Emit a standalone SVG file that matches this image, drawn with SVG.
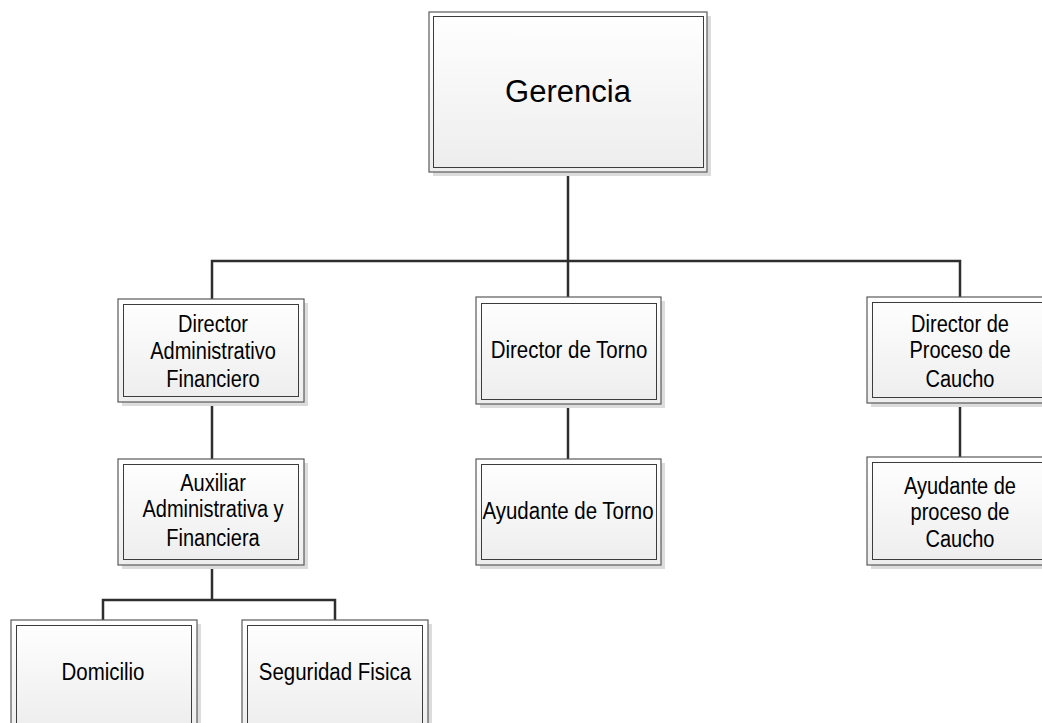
<svg xmlns="http://www.w3.org/2000/svg" width="1042" height="723" viewBox="0 0 1042 723">
<defs>
<linearGradient id="g" x1="0" y1="0" x2="0" y2="1">
<stop offset="0" stop-color="#ffffff"/>
<stop offset="1" stop-color="#ededed"/>
</linearGradient>
</defs>
<style>
.sh{fill:#dcdcdc;stroke:none}
.o{fill:url(#g);stroke:#5a5a5a;stroke-width:1.2}
.i{fill:none;stroke:#3c3c3c;stroke-width:1}
.t{font-family:"Liberation Sans",Arial,sans-serif;font-size:23px;fill:#000;text-anchor:middle}
.big{font-size:31px}
.c{fill:none;stroke:#2e2e2e;stroke-width:2.5}
</style>
<rect width="1042" height="723" fill="#fff"/>
<g id="connectors">
<path class="c" d="M568,172 V261 M212,299 V261 H960 V297 M568,261 V297"/>
<path class="c" d="M212,402 V459"/>
<path class="c" d="M568,404 V459"/>
<path class="c" d="M960,403 V457"/>
<path class="c" d="M212,565 V600 M103,620 V600 H335 V620"/>
</g>
<g id="gerencia">
<rect class="sh" x="433" y="16" width="278" height="160"/>
<rect class="o" x="429" y="12" width="278" height="160"/>
<rect class="i" x="433.5" y="16.5" width="270" height="151"/>
<text class="t big" x="568" y="102">Gerencia</text>
</g>
<g id="director-adm">
<rect class="sh" x="122" y="303" width="186" height="103"/>
<rect class="o" x="118" y="299" width="186" height="103"/>
<rect class="i" x="123.5" y="304.5" width="175" height="92"/>
<g transform="translate(213,0) scale(0.87,1)">
<text class="t" x="0" y="332">Director</text>
<text class="t" x="0" y="359">Administrativo</text>
<text class="t" x="0" y="387">Financiero</text>
</g>
</g>
<g id="director-torno">
<rect class="sh" x="480" y="301" width="185" height="107"/>
<rect class="o" x="476" y="297" width="185" height="107"/>
<rect class="i" x="481.5" y="303.5" width="175" height="96"/>
<g transform="translate(569,0) scale(0.89,1)">
<text class="t" x="0" y="358">Director de Torno</text>
</g>
</g>
<g id="director-caucho">
<rect class="sh" x="871" y="301" width="186" height="106"/>
<rect class="o" x="867" y="297" width="186" height="106"/>
<rect class="i" x="872.5" y="302.5" width="175" height="95"/>
<g transform="translate(960,0) scale(0.87,1)">
<text class="t" x="0" y="332">Director de</text>
<text class="t" x="0" y="358">Proceso de</text>
<text class="t" x="0" y="387">Caucho</text>
</g>
</g>
<g id="auxiliar">
<rect class="sh" x="122" y="463" width="186" height="106"/>
<rect class="o" x="118" y="459" width="186" height="106"/>
<rect class="i" x="123.5" y="464.5" width="175" height="95"/>
<g transform="translate(213,0) scale(0.87,1)">
<text class="t" x="0" y="491">Auxiliar</text>
<text class="t" x="0" y="517">Administrativa y</text>
<text class="t" x="0" y="546">Financiera</text>
</g>
</g>
<g id="ayudante-torno">
<rect class="sh" x="480" y="463" width="185" height="106"/>
<rect class="o" x="476" y="459" width="185" height="106"/>
<rect class="i" x="481.5" y="464.5" width="175" height="95"/>
<g transform="translate(568,0) scale(0.89,1)">
<text class="t" x="0" y="519">Ayudante de Torno</text>
</g>
</g>
<g id="ayudante-caucho">
<rect class="sh" x="871" y="461" width="186" height="108"/>
<rect class="o" x="867" y="457" width="186" height="108"/>
<rect class="i" x="872.5" y="462.5" width="175" height="97"/>
<g transform="translate(960,0) scale(0.87,1)">
<text class="t" x="0" y="494">Ayudante de</text>
<text class="t" x="0" y="520">proceso de</text>
<text class="t" x="0" y="547">Caucho</text>
</g>
</g>
<g id="domicilio">
<rect class="sh" x="15" y="624" width="186" height="110"/>
<rect class="o" x="11" y="620" width="186" height="110"/>
<rect class="i" x="16.5" y="625.5" width="175" height="100"/>
<g transform="translate(103,0) scale(0.89,1)">
<text class="t" x="0" y="680">Domicilio</text>
</g>
</g>
<g id="seguridad">
<rect class="sh" x="246" y="624" width="186" height="110"/>
<rect class="o" x="242" y="620" width="186" height="110"/>
<rect class="i" x="247.5" y="625.5" width="175" height="100"/>
<g transform="translate(335,0) scale(0.89,1)">
<text class="t" x="0" y="680">Seguridad Fisica</text>
</g>
</g>
</svg>
